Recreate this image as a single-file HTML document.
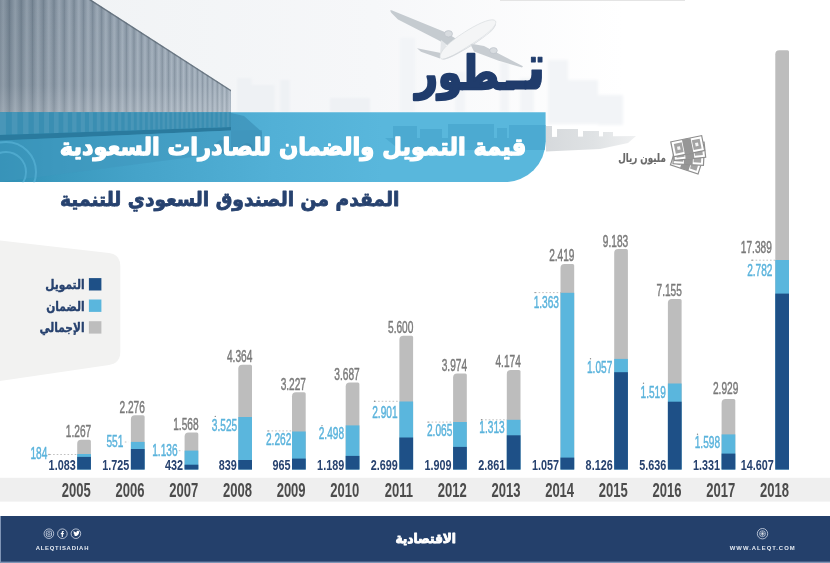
<!DOCTYPE html>
<html lang="ar"><head><meta charset="utf-8"><title>تطور قيمة التمويل والضمان للصادرات السعودية</title>
<style>html,body{margin:0;padding:0;background:#fff;}body{width:830px;height:563px;overflow:hidden;position:relative;}svg{display:block;position:absolute;left:0;top:0;}.ar{font-family:"DejaVu Sans","Liberation Sans",sans-serif;font-weight:bold;}.n{font-family:"Liberation Sans","DejaVu Sans",sans-serif;}.nb{font-family:"Liberation Sans","DejaVu Sans",sans-serif;font-weight:bold;}</style></head><body>
<svg width="830" height="563" viewBox="0 0 830 563">
<defs>
<linearGradient id="sky" x1="0" y1="0" x2="1" y2="0"><stop offset="0" stop-color="#eff2f4"/><stop offset="0.45" stop-color="#f6f7f9"/><stop offset="0.75" stop-color="#ffffff"/><stop offset="1" stop-color="#ffffff"/></linearGradient>
<linearGradient id="cont" x1="0" y1="0" x2="1" y2="0"><stop offset="0" stop-color="#788897"/><stop offset="0.3" stop-color="#8a99a8"/><stop offset="1" stop-color="#9fadbb"/></linearGradient>
<linearGradient id="ribg" x1="0" y1="0" x2="1" y2="0"><stop offset="0" stop-color="#1c2a36" stop-opacity="0.15"/><stop offset="0.5" stop-color="#ffffff" stop-opacity="0.13"/><stop offset="1" stop-color="#1c2a36" stop-opacity="0.15"/></linearGradient>
<linearGradient id="contv" x1="0" y1="0" x2="0" y2="1"><stop offset="0" stop-color="#ffffff" stop-opacity="0"/><stop offset="0.7" stop-color="#ffffff" stop-opacity="0.05"/><stop offset="1" stop-color="#ffffff" stop-opacity="0.22"/></linearGradient>
<filter id="blur1" x="-20%" y="-20%" width="140%" height="140%"><feGaussianBlur stdDeviation="0.8"/></filter><filter id="blur2" x="-20%" y="-20%" width="140%" height="140%"><feGaussianBlur stdDeviation="1.6"/></filter>
<clipPath id="cclip"><polygon points="0,0 91.5,0 231,90 231,122 0,122"/></clipPath>
<linearGradient id="bang" x1="0" y1="0" x2="1" y2="0"><stop offset="0" stop-color="#2f8fb3"/><stop offset="0.1" stop-color="#3a99be"/><stop offset="0.25" stop-color="#45a3c9"/><stop offset="0.5" stop-color="#52b0d6"/><stop offset="0.7" stop-color="#59b7dc"/><stop offset="1" stop-color="#59b7dc"/></linearGradient>
<linearGradient id="shipg" gradientUnits="userSpaceOnUse" x1="546" y1="0" x2="640" y2="0"><stop offset="0" stop-color="#d6d9dc"/><stop offset="0.5" stop-color="#dfe2e4"/><stop offset="1" stop-color="#f1f2f3"/></linearGradient>
<clipPath id="cbclip"><polygon points="0,112 231,112 231,127 0,135"/></clipPath>
<clipPath id="bclip"><path d="M0,112.3 H545.6 V141.2 A41,41 0 0 1 504.6,182.2 H0 Z"/></clipPath>
</defs>
<rect x="0" y="0" width="830" height="563" fill="#ffffff"/>
<rect x="0" y="0" width="830" height="125" fill="url(#sky)"/>
<g fill="#eef1f4" filter="url(#blur1)">
<rect x="237" y="78" width="14.5" height="34"/>
<rect x="251.5" y="85" width="23" height="27"/>
<rect x="280.4" y="80" width="9.2" height="32"/>
<rect x="330" y="98" width="40" height="14"/>
</g>
<rect x="500" y="0" width="185" height="1" fill="#e4e4e4"/>
<g clip-path="url(#cclip)">
<rect x="0" y="0" width="232" height="122" fill="url(#cont)"/>
<rect x="-3.0" y="0" width="12.4" height="122" fill="url(#ribg)"/>
<rect x="9.2" y="0" width="12.0" height="122" fill="url(#ribg)"/>
<rect x="21.0" y="0" width="11.6" height="122" fill="url(#ribg)"/>
<rect x="32.3" y="0" width="11.2" height="122" fill="url(#ribg)"/>
<rect x="43.3" y="0" width="10.8" height="122" fill="url(#ribg)"/>
<rect x="53.9" y="0" width="10.4" height="122" fill="url(#ribg)"/>
<rect x="64.1" y="0" width="10.1" height="122" fill="url(#ribg)"/>
<rect x="73.9" y="0" width="9.7" height="122" fill="url(#ribg)"/>
<rect x="83.4" y="0" width="9.4" height="122" fill="url(#ribg)"/>
<rect x="92.6" y="0" width="9.1" height="122" fill="url(#ribg)"/>
<rect x="101.5" y="0" width="8.7" height="122" fill="url(#ribg)"/>
<rect x="110.0" y="0" width="8.4" height="122" fill="url(#ribg)"/>
<rect x="118.3" y="0" width="8.2" height="122" fill="url(#ribg)"/>
<rect x="126.2" y="0" width="7.9" height="122" fill="url(#ribg)"/>
<rect x="133.9" y="0" width="7.6" height="122" fill="url(#ribg)"/>
<rect x="141.3" y="0" width="7.3" height="122" fill="url(#ribg)"/>
<rect x="148.5" y="0" width="7.1" height="122" fill="url(#ribg)"/>
<rect x="155.4" y="0" width="6.9" height="122" fill="url(#ribg)"/>
<rect x="162.0" y="0" width="6.6" height="122" fill="url(#ribg)"/>
<rect x="168.4" y="0" width="6.4" height="122" fill="url(#ribg)"/>
<rect x="174.6" y="0" width="6.2" height="122" fill="url(#ribg)"/>
<rect x="180.6" y="0" width="6.0" height="122" fill="url(#ribg)"/>
<rect x="186.4" y="0" width="5.8" height="122" fill="url(#ribg)"/>
<rect x="192.0" y="0" width="5.6" height="122" fill="url(#ribg)"/>
<rect x="197.3" y="0" width="5.4" height="122" fill="url(#ribg)"/>
<rect x="202.5" y="0" width="5.2" height="122" fill="url(#ribg)"/>
<rect x="207.5" y="0" width="5.0" height="122" fill="url(#ribg)"/>
<rect x="212.4" y="0" width="5.0" height="122" fill="url(#ribg)"/>
<rect x="217.2" y="0" width="5.0" height="122" fill="url(#ribg)"/>
<rect x="222.0" y="0" width="5.0" height="122" fill="url(#ribg)"/>
<rect x="226.8" y="0" width="5.0" height="122" fill="url(#ribg)"/>
<rect x="0" y="0" width="232" height="122" fill="url(#contv)"/>
</g>
<polygon points="91.5,0 231,90 231,91.6 89,0" fill="#55636e" opacity="0.7"/>
<g fill="#f2f4f7" filter="url(#blur2)">
<rect x="400" y="38" width="15" height="74"/>
<rect x="455" y="72" width="10" height="40"/>
<rect x="500" y="62" width="9" height="50"/>
<rect x="520" y="78" width="14" height="34"/>
<rect x="548" y="60" width="20" height="64"/>
<rect x="568" y="80" width="30" height="44"/>
<rect x="598" y="95" width="25" height="30"/>
</g>
<g>
<path d="M390,10.4 L391.6,10.2 L446,32.6 L458,40 L449,46 L437,39.5 L398,19.5 L391.5,13 Z" fill="#c5cbd0"/>
<path d="M470,43.5 L484,46 L523,66.2 L522,67.6 L498,60.5 L474,51.5 Z" fill="#c8cdd2"/>
<path d="M417,48.2 L441,53 L440,58.5 L421,51.8 Z" fill="#c6cbd0"/>
<path d="M441,40 L446,44 L445,56 L440,56 Z" fill="#e3e6e9"/>
<path d="M440.5,58 C438,52 450,41 468,30 C481,22 493,17.5 495.5,21 C497.5,25 489,33 475,42 C459,52 443,63 440.5,58 Z" fill="#f4f5f6" stroke="#d9dde0" stroke-width="0.7"/>
<path d="M442,59 C450,57.5 464,49.5 477,41.5 C487,35 494,29 495.8,23.5 C496.8,27 489,34.5 476,43 C460,53 446,61.5 442,59 Z" fill="#d5d9dd"/>
<ellipse cx="448.5" cy="33.8" rx="4" ry="3.2" fill="#d8dce0" stroke="#bcc2c8" stroke-width="0.7"/>
<ellipse cx="493.5" cy="50.6" rx="3.8" ry="3" fill="#d8dce0" stroke="#bcc2c8" stroke-width="0.7"/>
</g>
<text id="title" class="ar" transform="translate(546.2,89.3) scale(0.85,1)" fill="#203c6c" stroke="#203c6c" stroke-linejoin="round" direction="rtl" text-anchor="start"><tspan font-size="64.5" stroke-width="1">تـ</tspan><tspan font-size="45.6" stroke-width="2.5" dy="-0.7" dx="7.4">ـطور</tspan></text>
<g clip-path="url(#bclip)">
<rect x="0" y="112" width="546" height="70" fill="url(#bang)"/>
<polygon points="0,112 231,112 231,127 0,135" fill="#3a8eb2"/>
<g clip-path="url(#cbclip)">
<rect x="0.0" y="112" width="5.9" height="24" fill="#ffffff" opacity="0.08"/>
<rect x="11.8" y="112" width="5.6" height="24" fill="#ffffff" opacity="0.08"/>
<rect x="23.1" y="112" width="5.4" height="24" fill="#ffffff" opacity="0.08"/>
<rect x="33.8" y="112" width="5.1" height="24" fill="#ffffff" opacity="0.08"/>
<rect x="44.1" y="112" width="4.9" height="24" fill="#ffffff" opacity="0.08"/>
<rect x="53.9" y="112" width="4.7" height="24" fill="#ffffff" opacity="0.08"/>
<rect x="63.3" y="112" width="4.5" height="24" fill="#ffffff" opacity="0.08"/>
<rect x="72.2" y="112" width="4.3" height="24" fill="#ffffff" opacity="0.08"/>
<rect x="80.8" y="112" width="4.1" height="24" fill="#ffffff" opacity="0.08"/>
<rect x="89.0" y="112" width="3.9" height="24" fill="#ffffff" opacity="0.08"/>
<rect x="96.8" y="112" width="3.7" height="24" fill="#ffffff" opacity="0.08"/>
<rect x="104.2" y="112" width="3.6" height="24" fill="#ffffff" opacity="0.08"/>
<rect x="111.3" y="112" width="3.4" height="24" fill="#ffffff" opacity="0.08"/>
<rect x="118.1" y="112" width="3.2" height="24" fill="#ffffff" opacity="0.08"/>
<rect x="124.6" y="112" width="3.1" height="24" fill="#ffffff" opacity="0.08"/>
<rect x="130.8" y="112" width="3.0" height="24" fill="#ffffff" opacity="0.08"/>
<rect x="136.7" y="112" width="2.8" height="24" fill="#ffffff" opacity="0.08"/>
<rect x="142.3" y="112" width="2.7" height="24" fill="#ffffff" opacity="0.08"/>
<rect x="147.7" y="112" width="2.6" height="24" fill="#ffffff" opacity="0.08"/>
<rect x="152.9" y="112" width="2.5" height="24" fill="#ffffff" opacity="0.08"/>
<rect x="157.8" y="112" width="2.3" height="24" fill="#ffffff" opacity="0.08"/>
<rect x="162.5" y="112" width="2.3" height="24" fill="#ffffff" opacity="0.08"/>
<rect x="167.1" y="112" width="2.3" height="24" fill="#ffffff" opacity="0.08"/>
<rect x="171.7" y="112" width="2.3" height="24" fill="#ffffff" opacity="0.08"/>
<rect x="176.3" y="112" width="2.3" height="24" fill="#ffffff" opacity="0.08"/>
<rect x="180.9" y="112" width="2.3" height="24" fill="#ffffff" opacity="0.08"/>
<rect x="185.5" y="112" width="2.3" height="24" fill="#ffffff" opacity="0.08"/>
<rect x="190.1" y="112" width="2.3" height="24" fill="#ffffff" opacity="0.08"/>
<rect x="194.7" y="112" width="2.3" height="24" fill="#ffffff" opacity="0.08"/>
<rect x="199.3" y="112" width="2.3" height="24" fill="#ffffff" opacity="0.08"/>
<rect x="203.9" y="112" width="2.3" height="24" fill="#ffffff" opacity="0.08"/>
<rect x="208.5" y="112" width="2.3" height="24" fill="#ffffff" opacity="0.08"/>
<rect x="213.1" y="112" width="2.3" height="24" fill="#ffffff" opacity="0.08"/>
<rect x="217.7" y="112" width="2.3" height="24" fill="#ffffff" opacity="0.08"/>
<rect x="222.3" y="112" width="2.3" height="24" fill="#ffffff" opacity="0.08"/>
<rect x="226.9" y="112" width="2.3" height="24" fill="#ffffff" opacity="0.08"/>
</g>
<polygon points="0,135 231,127 231,130.5 0,140.5" fill="#2a7a9e"/>
<polygon points="0,140.5 231,130.5 262,130 262,150 231,152 0,182" fill="#3f97be" opacity="0.55"/>
<polygon points="231,113 244,116 262,132 262,150 231,150" fill="#3f93ba" opacity="0.8"/>
<g fill="none" stroke="#58b2d6" stroke-width="2" opacity="0.7"><circle cx="6" cy="172" r="30"/><circle cx="6" cy="172" r="20"/></g>
<g fill="#3787ad" opacity="0.55"><circle cx="222" cy="147" r="7"/><circle cx="247" cy="149" r="6"/></g>
<g fill="#4aa8d0" opacity="0.85"><rect x="393" y="126" width="24" height="12"/><rect x="420" y="129" width="22" height="9"/><rect x="448" y="124" width="46" height="16"/><rect x="497" y="128" width="10" height="12"/><rect x="509" y="125" width="37" height="15"/><polygon points="385,138 546,138 546,150 400,150"/></g>
</g>
<g fill="url(#shipg)"><polygon points="546,137 636,136 628,143 600,149 546,151.5"/><rect x="546" y="126" width="6" height="12"/><rect x="557" y="129" width="21" height="9"/><rect x="583" y="131" width="16" height="6"/><rect x="603" y="132" width="10" height="5"/></g>
<text id="banner" class="ar" transform="translate(526.4,155) scale(0.962,1.0)" font-size="23.5" fill="#ffffff" stroke="#ffffff" stroke-width="1.25" stroke-linejoin="round" direction="rtl" text-anchor="start">قيمة التمويل والضمان للصادرات السعودية</text>
<text id="sub" class="ar" transform="translate(399.3,206) scale(0.958,1.0)" font-size="19.5" fill="#27426f" stroke="#27426f" stroke-width="0.8" stroke-linejoin="round" direction="rtl" text-anchor="start">المقدم من الصندوق السعودي للتنمية</text>
<g id="money">
<g transform="translate(686.6,162.2) rotate(18)"><rect x="-14.5" y="-7.6" width="29" height="15.2" fill="#ffffff" stroke="#8e8e8e" stroke-width="1.2"/><rect x="-11.9" y="-5.0" width="6.7" height="10.0" fill="#a3a3a3"/><rect x="5.2" y="-5.0" width="6.7" height="10.0" fill="#a3a3a3"/><rect x="-4.4" y="-7.6" width="8.8" height="15.2" fill="#969696"/></g>
<g transform="translate(688.6,157.0) rotate(3)"><rect x="-15.25" y="-7.6" width="30.5" height="15.2" fill="#ffffff" stroke="#8e8e8e" stroke-width="1.2"/><rect x="-12.65" y="-5.0" width="7.5" height="10.0" fill="#a3a3a3"/><rect x="5.2" y="-5.0" width="7.5" height="10.0" fill="#a3a3a3"/><rect x="-4.4" y="-7.6" width="8.8" height="15.2" fill="#969696"/></g>
<g transform="translate(689.2,151.3) rotate(-6)"><rect x="-15.75" y="-7.6" width="31.5" height="15.2" fill="#ffffff" stroke="#8e8e8e" stroke-width="1.2"/><rect x="-13.15" y="-5.0" width="8.0" height="10.0" fill="#a3a3a3"/><rect x="5.2" y="-5.0" width="8.0" height="10.0" fill="#a3a3a3"/><rect x="-4.4" y="-7.6" width="8.8" height="15.2" fill="#969696"/></g>
<g transform="translate(687.7,146.2) rotate(-11.4)"><rect x="-15.75" y="-7.6" width="31.5" height="15.2" fill="#ffffff" stroke="#8e8e8e" stroke-width="1.2"/><rect x="-13.15" y="-5.0" width="8.0" height="10.0" fill="#a3a3a3"/><rect x="5.2" y="-5.0" width="8.0" height="10.0" fill="#a3a3a3"/><rect x="-4.4" y="-7.6" width="8.8" height="15.2" fill="#969696"/><rect x="-10.6" y="-1.6" width="3" height="3.4" fill="#f4f4f4"/><rect x="7.8" y="-1.6" width="3" height="3.4" fill="#f4f4f4"/></g>
</g>
<text id="unit" class="ar" transform="translate(665.8,161.5) scale(0.76,1.0)" font-size="11.5" fill="#6a6a6a" stroke="#6a6a6a" stroke-width="0.2" stroke-linejoin="round" direction="rtl" text-anchor="start">مليون ريال</text>
<path d="M0,240.5 L109,253 Q120.3,254.5 120.3,266 L120.3,352 Q120.3,363 109,365 L0,381 Z" fill="#f2f2f1"/>
<rect x="88.9" y="278.1" width="12.5" height="12.4" fill="#1e5087"/>
<text class="ar" transform="translate(84.6,289.3) scale(0.82,1.0)" font-size="13" fill="#27426f" stroke="#27426f" stroke-width="0.4" stroke-linejoin="round" direction="rtl" text-anchor="start">التمويل</text>
<rect x="88.9" y="299.5" width="12.5" height="12.4" fill="#5ab6dd"/>
<text class="ar" transform="translate(84.6,310.7) scale(0.82,1.0)" font-size="13" fill="#27426f" stroke="#27426f" stroke-width="0.4" stroke-linejoin="round" direction="rtl" text-anchor="start">الضمان</text>
<rect x="88.9" y="321.2" width="12.5" height="12.4" fill="#bdbdbd"/>
<text class="ar" transform="translate(84.6,332.4) scale(0.82,1.0)" font-size="13" fill="#27426f" stroke="#27426f" stroke-width="0.4" stroke-linejoin="round" direction="rtl" text-anchor="start">الإجمالي</text>
<rect x="0" y="477.8" width="830" height="23.8" fill="#efefef"/>
<path d="M77.2,469.5 V443.8 Q77.2,439.8 81.2,439.8 H89.4 Q90.9,439.8 90.9,441.3 V469.5 Z" fill="#bdbdbd"/>
<rect x="77.2" y="454.0" width="13.7" height="15.5" fill="#5ab6dd"/>
<rect x="77.2" y="456.9" width="13.7" height="12.6" fill="#1e5087"/>
<text class="n" stroke="#7a7a7a" stroke-width="0.45" transform="translate(91.2,437.2) scale(0.642,1)" font-size="15.8" fill="#7a7a7a" text-anchor="end">1.267</text>
<text class="nb" transform="translate(75.7,469.7) scale(0.712,1)" font-size="15.2" fill="#27426f" text-anchor="end">1.083</text>
<text class="n" stroke="#5ab3dc" stroke-width="0.45" transform="translate(47.4,459.3) scale(0.642,1)" font-size="15.8" fill="#5ab3dc" text-anchor="end">184</text>
<text class="nb" transform="translate(90.8,497.3) scale(0.665,1)" font-size="19.6" fill="#4c4c4c" text-anchor="end">2005</text>
<path d="M130.9,469.5 V419.3 Q130.9,415.3 134.9,415.3 H143.1 Q144.6,415.3 144.6,416.8 V469.5 Z" fill="#bdbdbd"/>
<rect x="130.9" y="441.9" width="13.7" height="27.6" fill="#5ab6dd"/>
<rect x="130.9" y="449.0" width="13.7" height="20.5" fill="#1e5087"/>
<text class="n" stroke="#7a7a7a" stroke-width="0.45" transform="translate(144.9,412.7) scale(0.642,1)" font-size="15.8" fill="#7a7a7a" text-anchor="end">2.276</text>
<text class="nb" transform="translate(129.4,469.7) scale(0.712,1)" font-size="15.2" fill="#27426f" text-anchor="end">1.725</text>
<text class="n" stroke="#5ab3dc" stroke-width="0.45" transform="translate(123.4,446.9) scale(0.642,1)" font-size="15.8" fill="#5ab3dc" text-anchor="end">551</text>
<text class="nb" transform="translate(144.5,497.3) scale(0.665,1)" font-size="19.6" fill="#4c4c4c" text-anchor="end">2006</text>
<path d="M184.6,469.5 V436.4 Q184.6,432.4 188.6,432.4 H196.8 Q198.3,432.4 198.3,433.9 V469.5 Z" fill="#bdbdbd"/>
<rect x="184.6" y="450.6" width="13.7" height="18.9" fill="#5ab6dd"/>
<rect x="184.6" y="464.7" width="13.7" height="4.8" fill="#1e5087"/>
<text class="n" stroke="#7a7a7a" stroke-width="0.45" transform="translate(198.6,429.8) scale(0.642,1)" font-size="15.8" fill="#7a7a7a" text-anchor="end">1.568</text>
<text class="nb" transform="translate(183.1,469.7) scale(0.712,1)" font-size="15.2" fill="#27426f" text-anchor="end">432</text>
<text class="n" stroke="#5ab3dc" stroke-width="0.45" transform="translate(177.6,456.3) scale(0.642,1)" font-size="15.8" fill="#5ab3dc" text-anchor="end">1.136</text>
<text class="nb" transform="translate(198.2,497.3) scale(0.665,1)" font-size="19.6" fill="#4c4c4c" text-anchor="end">2007</text>
<path d="M238.3,469.5 V368.8 Q238.3,364.8 242.3,364.8 H250.5 Q252.0,364.8 252.0,366.3 V469.5 Z" fill="#bdbdbd"/>
<rect x="238.3" y="417.0" width="13.7" height="52.5" fill="#5ab6dd"/>
<rect x="238.3" y="460.0" width="13.7" height="9.5" fill="#1e5087"/>
<text class="n" stroke="#7a7a7a" stroke-width="0.45" transform="translate(252.3,362.2) scale(0.642,1)" font-size="15.8" fill="#7a7a7a" text-anchor="end">4.364</text>
<text class="nb" transform="translate(236.8,469.7) scale(0.712,1)" font-size="15.2" fill="#27426f" text-anchor="end">839</text>
<text class="n" stroke="#5ab3dc" stroke-width="0.45" transform="translate(237.2,431.0) scale(0.642,1)" font-size="15.8" fill="#5ab3dc" text-anchor="end">3.525</text>
<text class="nb" transform="translate(251.9,497.3) scale(0.665,1)" font-size="19.6" fill="#4c4c4c" text-anchor="end">2008</text>
<path d="M292.0,469.5 V396.2 Q292.0,392.2 296.0,392.2 H304.2 Q305.7,392.2 305.7,393.7 V469.5 Z" fill="#bdbdbd"/>
<rect x="292.0" y="431.5" width="13.7" height="38.0" fill="#5ab6dd"/>
<rect x="292.0" y="458.6" width="13.7" height="10.9" fill="#1e5087"/>
<text class="n" stroke="#7a7a7a" stroke-width="0.45" transform="translate(306.0,389.6) scale(0.642,1)" font-size="15.8" fill="#7a7a7a" text-anchor="end">3.227</text>
<text class="nb" transform="translate(290.5,469.7) scale(0.712,1)" font-size="15.2" fill="#27426f" text-anchor="end">965</text>
<text class="n" stroke="#5ab3dc" stroke-width="0.45" transform="translate(291.3,444.7) scale(0.642,1)" font-size="15.8" fill="#5ab3dc" text-anchor="end">2.262</text>
<text class="nb" transform="translate(305.6,497.3) scale(0.665,1)" font-size="19.6" fill="#4c4c4c" text-anchor="end">2009</text>
<path d="M345.7,469.5 V386.5 Q345.7,382.5 349.7,382.5 H357.9 Q359.4,382.5 359.4,384.0 V469.5 Z" fill="#bdbdbd"/>
<rect x="345.7" y="425.4" width="13.7" height="44.1" fill="#5ab6dd"/>
<rect x="345.7" y="455.9" width="13.7" height="13.6" fill="#1e5087"/>
<text class="n" stroke="#7a7a7a" stroke-width="0.45" transform="translate(359.7,379.9) scale(0.642,1)" font-size="15.8" fill="#7a7a7a" text-anchor="end">3.687</text>
<text class="nb" transform="translate(344.2,469.7) scale(0.712,1)" font-size="15.2" fill="#27426f" text-anchor="end">1.189</text>
<text class="n" stroke="#5ab3dc" stroke-width="0.45" transform="translate(344.1,439.3) scale(0.642,1)" font-size="15.8" fill="#5ab3dc" text-anchor="end">2.498</text>
<text class="nb" transform="translate(359.3,497.3) scale(0.665,1)" font-size="19.6" fill="#4c4c4c" text-anchor="end">2010</text>
<path d="M399.4,469.5 V339.7 Q399.4,335.7 403.4,335.7 H411.6 Q413.1,335.7 413.1,337.2 V469.5 Z" fill="#bdbdbd"/>
<rect x="399.4" y="401.5" width="13.7" height="68.0" fill="#5ab6dd"/>
<rect x="399.4" y="437.5" width="13.7" height="32.0" fill="#1e5087"/>
<text class="n" stroke="#7a7a7a" stroke-width="0.45" transform="translate(413.4,333.1) scale(0.642,1)" font-size="15.8" fill="#7a7a7a" text-anchor="end">5.600</text>
<text class="nb" transform="translate(397.9,469.7) scale(0.712,1)" font-size="15.2" fill="#27426f" text-anchor="end">2.699</text>
<text class="n" stroke="#5ab3dc" stroke-width="0.45" transform="translate(397.6,417.6) scale(0.642,1)" font-size="15.8" fill="#5ab3dc" text-anchor="end">2.901</text>
<text class="nb" transform="translate(413.0,497.3) scale(0.665,1)" font-size="19.6" fill="#4c4c4c" text-anchor="end">2011</text>
<path d="M453.1,469.5 V377.6 Q453.1,373.6 457.1,373.6 H465.3 Q466.8,373.6 466.8,375.1 V469.5 Z" fill="#bdbdbd"/>
<rect x="453.1" y="422.0" width="13.7" height="47.5" fill="#5ab6dd"/>
<rect x="453.1" y="446.9" width="13.7" height="22.6" fill="#1e5087"/>
<text class="n" stroke="#7a7a7a" stroke-width="0.45" transform="translate(467.1,371.0) scale(0.642,1)" font-size="15.8" fill="#7a7a7a" text-anchor="end">3.974</text>
<text class="nb" transform="translate(451.6,469.7) scale(0.712,1)" font-size="15.2" fill="#27426f" text-anchor="end">1.909</text>
<text class="n" stroke="#5ab3dc" stroke-width="0.45" transform="translate(452.3,436.1) scale(0.642,1)" font-size="15.8" fill="#5ab3dc" text-anchor="end">2.065</text>
<text class="nb" transform="translate(466.7,497.3) scale(0.665,1)" font-size="19.6" fill="#4c4c4c" text-anchor="end">2012</text>
<path d="M506.8,469.5 V374.0 Q506.8,370.0 510.8,370.0 H519.0 Q520.5,370.0 520.5,371.5 V469.5 Z" fill="#bdbdbd"/>
<rect x="506.8" y="419.8" width="13.7" height="49.7" fill="#5ab6dd"/>
<rect x="506.8" y="435.3" width="13.7" height="34.2" fill="#1e5087"/>
<text class="n" stroke="#7a7a7a" stroke-width="0.45" transform="translate(520.8,367.4) scale(0.642,1)" font-size="15.8" fill="#7a7a7a" text-anchor="end">4.174</text>
<text class="nb" transform="translate(505.3,469.7) scale(0.712,1)" font-size="15.2" fill="#27426f" text-anchor="end">2.861</text>
<text class="n" stroke="#5ab3dc" stroke-width="0.45" transform="translate(504.7,433.4) scale(0.642,1)" font-size="15.8" fill="#5ab3dc" text-anchor="end">1.313</text>
<text class="nb" transform="translate(520.4,497.3) scale(0.665,1)" font-size="19.6" fill="#4c4c4c" text-anchor="end">2013</text>
<path d="M560.5,469.5 V268.0 Q560.5,264.0 564.5,264.0 H572.7 Q574.2,264.0 574.2,265.5 V469.5 Z" fill="#bdbdbd"/>
<rect x="560.5" y="292.8" width="13.7" height="176.7" fill="#5ab6dd"/>
<rect x="560.5" y="457.6" width="13.7" height="11.9" fill="#1e5087"/>
<text class="n" stroke="#7a7a7a" stroke-width="0.45" transform="translate(574.5,261.4) scale(0.642,1)" font-size="15.8" fill="#7a7a7a" text-anchor="end">2.419</text>
<text class="nb" transform="translate(559.0,469.7) scale(0.712,1)" font-size="15.2" fill="#27426f" text-anchor="end">1.057</text>
<text class="n" stroke="#5ab3dc" stroke-width="0.45" transform="translate(559.0,308.0) scale(0.642,1)" font-size="15.8" fill="#5ab3dc" text-anchor="end">1.363</text>
<text class="nb" transform="translate(574.1,497.3) scale(0.665,1)" font-size="19.6" fill="#4c4c4c" text-anchor="end">2014</text>
<path d="M614.2,469.5 V253.1 Q614.2,249.1 618.2,249.1 H626.4 Q627.9,249.1 627.9,250.6 V469.5 Z" fill="#bdbdbd"/>
<rect x="614.2" y="358.9" width="13.7" height="110.6" fill="#5ab6dd"/>
<rect x="614.2" y="372.2" width="13.7" height="97.3" fill="#1e5087"/>
<text class="n" stroke="#7a7a7a" stroke-width="0.45" transform="translate(628.2,246.5) scale(0.642,1)" font-size="15.8" fill="#7a7a7a" text-anchor="end">9.183</text>
<text class="nb" transform="translate(612.7,469.7) scale(0.712,1)" font-size="15.2" fill="#27426f" text-anchor="end">8.126</text>
<text class="n" stroke="#5ab3dc" stroke-width="0.45" transform="translate(612.3,372.5) scale(0.642,1)" font-size="15.8" fill="#5ab3dc" text-anchor="end">1.057</text>
<text class="nb" transform="translate(627.8,497.3) scale(0.665,1)" font-size="19.6" fill="#4c4c4c" text-anchor="end">2015</text>
<path d="M667.9,469.5 V302.9 Q667.9,298.9 671.9,298.9 H680.1 Q681.6,298.9 681.6,300.4 V469.5 Z" fill="#bdbdbd"/>
<rect x="667.9" y="383.5" width="13.7" height="86.0" fill="#5ab6dd"/>
<rect x="667.9" y="401.7" width="13.7" height="67.8" fill="#1e5087"/>
<text class="n" stroke="#7a7a7a" stroke-width="0.45" transform="translate(681.9,296.3) scale(0.642,1)" font-size="15.8" fill="#7a7a7a" text-anchor="end">7.155</text>
<text class="nb" transform="translate(666.4,469.7) scale(0.712,1)" font-size="15.2" fill="#27426f" text-anchor="end">5.636</text>
<text class="n" stroke="#5ab3dc" stroke-width="0.45" transform="translate(665.9,398.3) scale(0.642,1)" font-size="15.8" fill="#5ab3dc" text-anchor="end">1.519</text>
<text class="nb" transform="translate(681.5,497.3) scale(0.665,1)" font-size="19.6" fill="#4c4c4c" text-anchor="end">2016</text>
<path d="M721.6,469.5 V402.9 Q721.6,398.9 725.6,398.9 H733.8 Q735.3,398.9 735.3,400.4 V469.5 Z" fill="#bdbdbd"/>
<rect x="721.6" y="434.4" width="13.7" height="35.1" fill="#5ab6dd"/>
<rect x="721.6" y="453.6" width="13.7" height="15.9" fill="#1e5087"/>
<text class="n" stroke="#7a7a7a" stroke-width="0.45" transform="translate(738.3,394.3) scale(0.642,1)" font-size="15.8" fill="#7a7a7a" text-anchor="end">2.929</text>
<text class="nb" transform="translate(720.1,469.7) scale(0.712,1)" font-size="15.2" fill="#27426f" text-anchor="end">1.331</text>
<text class="n" stroke="#5ab3dc" stroke-width="0.45" transform="translate(720.1,448.1) scale(0.642,1)" font-size="15.8" fill="#5ab3dc" text-anchor="end">1.598</text>
<text class="nb" transform="translate(735.2,497.3) scale(0.665,1)" font-size="19.6" fill="#4c4c4c" text-anchor="end">2017</text>
<path d="M775.3,469.5 V54.2 Q775.3,50.2 779.3,50.2 H787.5 Q789.0,50.2 789.0,51.7 V469.5 Z" fill="#bdbdbd"/>
<rect x="775.3" y="260.0" width="13.7" height="209.5" fill="#5ab6dd"/>
<rect x="775.3" y="293.6" width="13.7" height="175.9" fill="#1e5087"/>
<text class="n" stroke="#7a7a7a" stroke-width="0.45" transform="translate(771.8,253.4) scale(0.642,1)" font-size="15.8" fill="#7a7a7a" text-anchor="end">17.389</text>
<text class="nb" transform="translate(773.8,469.7) scale(0.712,1)" font-size="15.2" fill="#27426f" text-anchor="end">14.607</text>
<text class="n" stroke="#5ab3dc" stroke-width="0.45" transform="translate(772.5,276.1) scale(0.642,1)" font-size="15.8" fill="#5ab3dc" text-anchor="end">2.782</text>
<text class="nb" transform="translate(788.9,497.3) scale(0.665,1)" font-size="19.6" fill="#4c4c4c" text-anchor="end">2018</text>
<g stroke="#b0b0b0" stroke-width="0.8" stroke-dasharray="1.6,2" fill="none">
<path d="M49.5,454.5 H77"/><path d="M124.8,442 H128.5"/><path d="M178.8,450.7 H182.5"/>
<path d="M268,430.9 H292"/><path d="M374.5,401.3 H399.5"/><path d="M428,422.1 H453"/><path d="M481.5,419.8 H507"/><path d="M535,292.6 H561"/><path d="M752,260.2 H775"/>
</g>
<g fill="#8a8a8a">
<circle cx="49" cy="454.5" r="0.7"/>
<circle cx="215.3" cy="416.4" r="0.7"/>
<circle cx="268" cy="430.9" r="0.7"/>
<circle cx="322" cy="425.6" r="0.7"/>
<circle cx="374.5" cy="401.3" r="0.7"/>
<circle cx="428" cy="422.1" r="0.7"/>
<circle cx="481.5" cy="419.8" r="0.7"/>
<circle cx="535" cy="292.6" r="0.7"/>
<circle cx="590.5" cy="358.8" r="0.7"/>
<circle cx="643.5" cy="383.2" r="0.7"/>
<circle cx="697.5" cy="434.2" r="0.7"/>
<circle cx="752" cy="260.2" r="0.7"/>
</g>
<rect x="0" y="516" width="830" height="47" fill="#7f94b5"/>
<rect x="1" y="516" width="829" height="45.6" fill="#24406b"/>
<g fill="none" stroke="#d3dbe8" stroke-width="0.8">
<circle cx="48.9" cy="533.7" r="4.8"/>
<circle cx="62.4" cy="533.7" r="4.8"/>
<circle cx="75.9" cy="533.7" r="4.8"/>
<circle cx="762.5" cy="533.7" r="5.2"/><circle cx="762.5" cy="533.7" r="3" stroke-width="0.7"/>
<rect x="46.3" y="531.1" width="5.2" height="5.2" rx="1.3" stroke-width="0.8"/><circle cx="48.9" cy="533.7" r="1.2" stroke-width="0.7"/>
</g>
<path d="M63.6,531 h-0.9 q-1,0 -1,1 v1 h-0.9 v1.2 h0.9 v2.8 h1.2 v-2.8 h0.9 l0.1,-1.2 h-1 v-0.7 q0,-0.3 0.4,-0.3 h0.6 z" fill="#fff"/>
<path d="M73.2,535.6 q1.2,0.1 2,-0.6 q-1,-0.1 -1.3,-0.9 h0.6 q-1,-0.4 -1,-1.4 l0.6,0.2 q-0.9,-0.8 -0.4,-1.8 q1.1,1.3 2.8,1.4 q-0.2,-1.4 1.1,-1.7 q0.7,-0.1 1.2,0.4 l0.9,-0.3 l-0.6,0.7 l0.7,-0.2 l-0.7,0.7 q0.1,2.2 -1.7,3.4 q-2,1.1 -4.2,0.1 z" fill="#fff"/>
<path d="M760,533.7 h5 M762.5,531.2 v5 M760.7,532 l3.6,3.4 M764.3,532 l-3.6,3.4" stroke="#fff" stroke-width="0.5"/>
<text class="nb" x="62.4" y="550.1" font-size="5.9" fill="#e6ebf3" text-anchor="middle" letter-spacing="0.78">ALEQTISADIAH</text>
<text class="nb" x="762.7" y="550.1" font-size="5.9" fill="#e6ebf3" text-anchor="middle" letter-spacing="1.02">WWW.ALEQT.COM</text>
<text id="logo" class="ar" transform="translate(456,543.0) scale(0.835,0.87)" font-size="14.5" fill="#ffffff" stroke="#ffffff" stroke-width="1.0" stroke-linejoin="round" direction="rtl" text-anchor="start">الاقتصادية</text>
</svg></body></html>
